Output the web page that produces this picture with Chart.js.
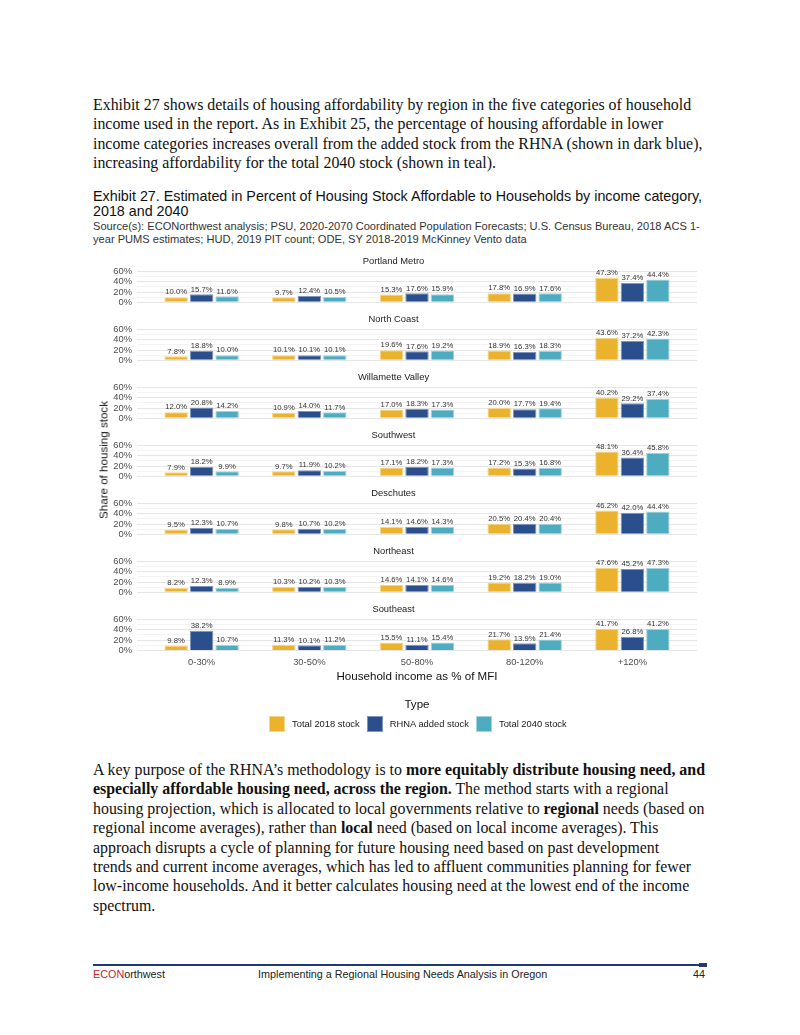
<!DOCTYPE html>
<html>
<head>
<meta charset="utf-8">
<script src="https://cdn.jsdelivr.net/npm/chart.js@4.4.0/dist/chart.umd.min.js"></script>
<style>
  body { margin: 0; background: #fff; }
  #page { position: relative; width: 800px; height: 1035px; overflow: hidden; background: #fff; }
  .para { position: absolute; left: 93px; font-family: "Liberation Serif", serif; font-size: 15.9px;
          line-height: 19.4px; color: #111; white-space: nowrap; }
  .sans { font-family: "Liberation Sans", Arial, sans-serif; }
  #title { position: absolute; left: 93px; top: 189px; font-size: 14.3px; line-height: 15px; color: #111; white-space: nowrap; }
  #source { position: absolute; left: 93px; top: 220px; font-size: 11.1px; line-height: 13px; color: #333; white-space: nowrap; }
  .panel { position: absolute; left: 90px; }
  #ytitle { position: absolute; left: 103px; top: 460px; transform: translate(-50%, -50%) rotate(-90deg);
            font-size: 11.6px; color: #111; white-space: nowrap; }
  #xtitle { position: absolute; left: 417px; top: 675px; transform: translate(-50%, -50%); font-size: 11.6px; color: #111; white-space: nowrap; }
  #legtitle { position: absolute; left: 417px; top: 703px; transform: translate(-50%, -50%); font-size: 11.6px; color: #111; }
  #legend { position: absolute; left: 269px; top: 715px; height: 17px; display: flex; align-items: center;
            font-size: 9.4px; color: #1a1a1a; white-space: nowrap; }
  #legend .sw { width: 16px; height: 16px; margin-right: 7px; }
  #legend .it { display: flex; align-items: center; margin-right: 7px; }
  #rule { position: absolute; left: 93px; top: 964px; width: 614px; height: 2px; background: #1f3a70; }
  #rule2 { position: absolute; left: 699px; top: 963px; width: 8px; height: 4px; background: #1f3a70; }
  .foot { position: absolute; top: 968px; font-size: 10.8px; color: #222; white-space: nowrap; }
</style>
</head>
<body>
<div id="page">
  <div class="para" style="top:95px">
    Exhibit 27 shows details of housing affordability by region in the five categories of household<br>
    income used in the report. As in Exhibit 25, the percentage of housing affordable in lower<br>
    income categories increases overall from the added stock from the RHNA (shown in dark blue),<br>
    increasing affordability for the total 2040 stock (shown in teal).
  </div>

  <div id="title" class="sans">Exhibit 27. Estimated in Percent of Housing Stock Affordable to Households by income category,<br>2018 and 2040</div>
  <div id="source" class="sans">Source(s): ECONorthwest analysis; PSU, 2020-2070 Coordinated Population Forecasts; U.S. Census Bureau, 2018 ACS 1-<br>year PUMS estimates; HUD, 2019 PIT count; ODE, SY 2018-2019 McKinney Vento data</div>

  <div id="panels"></div>
  <div id="ytitle" class="sans">Share of housing stock</div>
  <div id="xtitle" class="sans">Household income as % of MFI</div>
  <div id="legtitle" class="sans">Type</div>
  <div id="legend" class="sans"></div>

  <div class="para" style="top:760px">
    A key purpose of the RHNA’s methodology is to <b>more equitably distribute housing need, and</b><br>
    <b>especially affordable housing need, across the region.</b> The method starts with a regional<br>
    housing projection, which is allocated to local governments relative to <b>regional</b> needs (based on<br>
    regional income averages), rather than <b>local</b> need (based on local income averages). This<br>
    approach disrupts a cycle of planning for future housing need based on past development<br>
    trends and current income averages, which has led to affluent communities planning for fewer<br>
    low-income households. And it better calculates housing need at the lowest end of the income<br>
    spectrum.
  </div>

  <div id="rule"></div><div id="rule2"></div>
  <div class="foot sans" style="left:93px"><span style="color:#c4262e">ECON</span>orthwest</div>
  <div class="foot sans" style="left:258px">Implementing a Regional Housing Needs Analysis in Oregon</div>
  <div class="foot sans" style="left:693px">44</div>
</div>

<script>
const incomeBands = ['0-30%', '30-50%', '50-80%', '80-120%', '+120%'];
const regions = ['Portland Metro', 'North Coast', 'Willamette Valley', 'Southwest', 'Deschutes', 'Northeast', 'Southeast'];
const seriesNames = ['Total 2018 stock', 'RHNA added stock', 'Total 2040 stock'];

// one row per region, one value per income band (%)
const total2018 = [
  [10.0, 9.7, 15.3, 17.8, 47.3],
  [7.8, 10.1, 19.6, 18.9, 43.6],
  [12.0, 10.9, 17.0, 20.0, 40.2],
  [7.9, 9.7, 17.1, 17.2, 48.1],
  [9.5, 9.8, 14.1, 20.5, 46.2],
  [8.2, 10.3, 14.6, 19.2, 47.6],
  [9.8, 11.3, 15.5, 21.7, 41.7]
];
const rhnaAdded = [
  [15.7, 12.4, 17.6, 16.9, 37.4],
  [18.8, 10.1, 17.6, 16.3, 37.2],
  [20.8, 14.0, 18.3, 17.7, 29.2],
  [18.2, 11.9, 18.2, 15.3, 36.4],
  [12.3, 10.7, 14.6, 20.4, 42.0],
  [12.3, 10.2, 14.1, 18.2, 45.2],
  [38.2, 10.1, 11.1, 13.9, 26.8]
];
const total2040 = [
  [11.6, 10.5, 15.9, 17.6, 44.4],
  [10.0, 10.1, 19.2, 18.3, 42.3],
  [14.2, 11.7, 17.3, 19.4, 37.4],
  [9.9, 10.2, 17.3, 16.8, 45.8],
  [10.7, 10.2, 14.3, 20.4, 44.4],
  [8.9, 10.3, 14.6, 19.0, 47.3],
  [10.7, 11.2, 15.4, 21.4, 41.2]
];
const yTicks = [0, 10, 20, 30, 40, 50, 60];

const seriesData = [total2018, rhnaAdded, total2040];
const fills = ['#ebb32d', '#2b4f8c', '#4eacc0'];
const edges = ['#f5d784', '#7f95bd', '#a2d3de'];

Chart.defaults.font.family = '"Liberation Sans", Arial, sans-serif';

const barLabels = {
  id: 'barLabels',
  afterDatasetsDraw(chart) {
    const ctx = chart.ctx;
    ctx.save();
    ctx.font = '7.7px "Liberation Sans", Arial, sans-serif';
    ctx.fillStyle = '#333';
    ctx.textAlign = 'center';
    ctx.textBaseline = 'bottom';
    chart.data.datasets.forEach((ds, di) => {
      chart.getDatasetMeta(di).data.forEach((bar, j) => {
        ctx.fillText(ds.data[j].y.toFixed(1) + '%', bar.x, bar.y - 1);
      });
    });
    ctx.restore();
  }
};

const holder = document.getElementById('panels');
regions.forEach((region, r) => {
  const last = r === regions.length - 1;
  const wrap = document.createElement('div');
  wrap.className = 'panel';
  wrap.style.top = (255.7 + 58 * r) + 'px';
  const canvas = document.createElement('canvas');
  canvas.width = 620;
  canvas.height = last ? 74 : 57;
  wrap.appendChild(canvas);
  holder.appendChild(wrap);

  const xScale = {
    type: 'linear', min: -0.6, max: 4.6, offset: false, display: last,
    grid: { display: false, drawTicks: false },
    border: { display: false },
    afterBuildTicks: s => { s.ticks = incomeBands.map((_, i) => ({ value: i })); },
    ticks: { callback: v => incomeBands[v], color: '#4d4d4d', font: { size: 9.4 }, padding: 6.5, maxRotation: 0, autoSkip: false }
  };
  if (last) xScale.afterFit = s => { s.height = 20; };

  new Chart(canvas, {
    type: 'bar',
    data: {
      datasets: seriesNames.map((name, s) => ({
        label: name,
        data: seriesData[s][r].map((v, i) => ({ x: i, y: v })),
        backgroundColor: fills[s],
        borderColor: edges[s],
        borderWidth: 1,
        categoryPercentage: 0.71,
        barPercentage: 0.92
      }))
    },
    options: {
      responsive: false,
      animation: false,
      layout: { padding: { left: 0, right: 13, top: 0, bottom: last ? 7.4 : 0 } },
      plugins: {
        legend: { display: false },
        tooltip: { enabled: false },
        title: { display: true, text: region, color: '#1a1a1a', font: { size: 9.4, weight: 'normal' }, padding: { top: 0, bottom: 3 } }
      },
      scales: {
        x: xScale,
        y: {
          min: 0, max: 62,
          grid: { color: c => c.tick.value % 20 === 0 ? '#e6e6e6' : '#f3f3f3', drawTicks: false },
          border: { display: false },
          afterBuildTicks: s => { s.ticks = yTicks.map(v => ({ value: v })); },
          ticks: { callback: v => v % 20 === 0 ? v + '%' : '', color: '#4d4d4d', font: { size: 9.4 }, padding: 5, autoSkip: false },
          afterFit: s => { s.width = 47; }
        }
      }
    },
    plugins: [barLabels]
  });
});

const legend = document.getElementById('legend');
seriesNames.forEach((name, s) => {
  const it = document.createElement('div');
  it.className = 'it';
  it.innerHTML = '<div class="sw" style="background:' + fills[s] + ';border:1px solid ' + edges[s] + ';box-sizing:border-box"></div>' + name;
  legend.appendChild(it);
});
</script>
</body>
</html>
